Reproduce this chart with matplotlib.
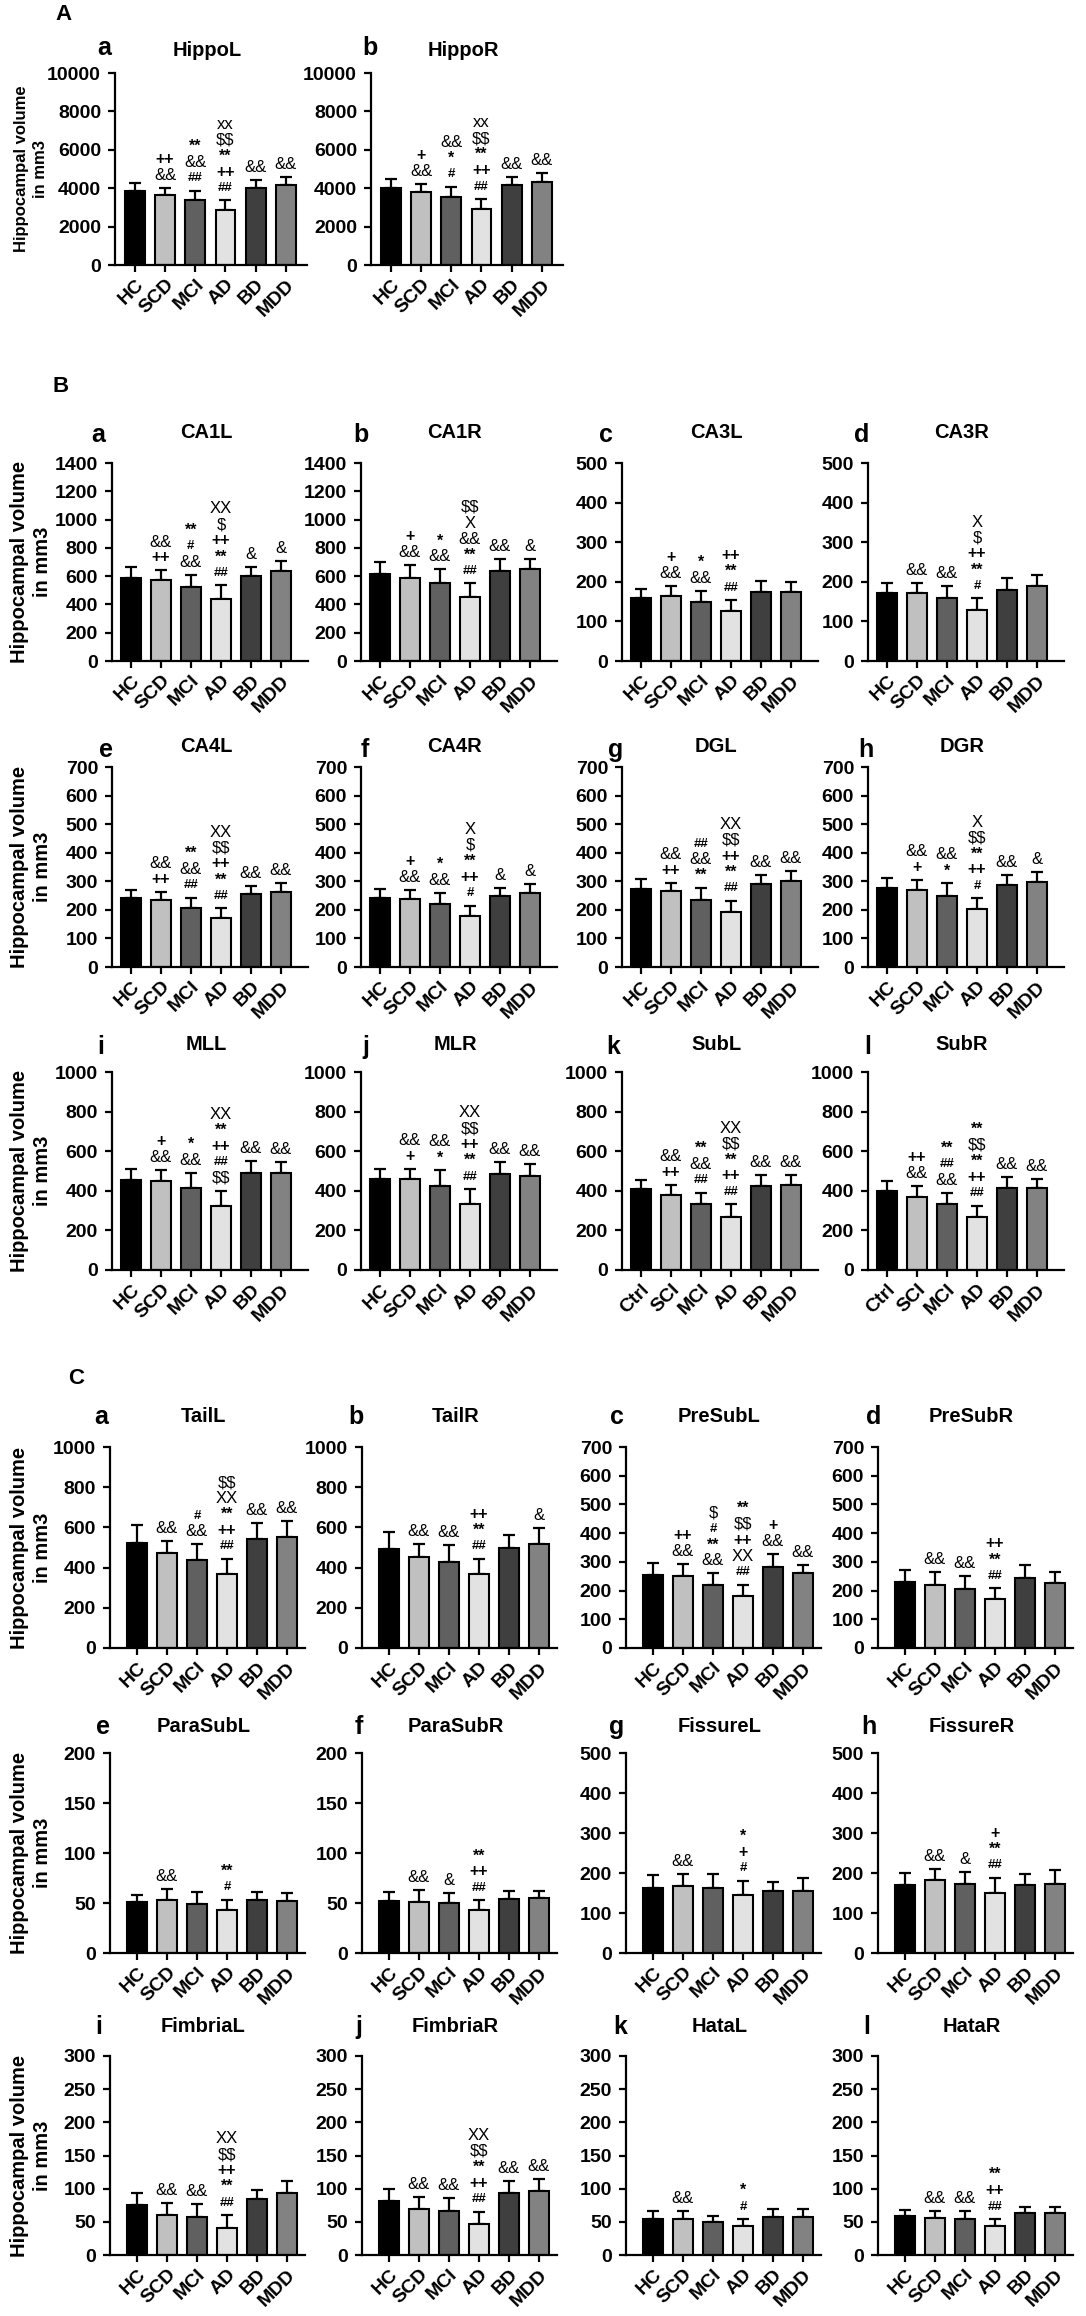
import matplotlib
matplotlib.use("Agg")
import matplotlib.pyplot as plt
import numpy as np

plt.rcParams['font.family'] = ['Liberation Sans', 'DejaVu Sans']
plt.rcParams['text.parse_math'] = False

W, H = 1086, 2316
DPI = 100

# ---------------- data ----------------
groups = ["HC", "SCD", "MCI", "AD", "BD", "MDD"]
groups_sub = ["Ctrl", "SCI", "MCI", "AD", "BD", "MDD"]
bar_colors = ["#000000", "#c0c0c0", "#606060", "#e2e2e2", "#3f3f3f", "#828282"]

hippoL_mean = [3850, 3640, 3380, 2860, 4020, 4160]
hippoL_err = [430, 350, 480, 500, 400, 415]
hippoL_sig = ["", "++\n&&", "**\n&&\n##", "xx\n$$\n**\n++\n##", "&&", "&&"]
hippoR_mean = [3990, 3780, 3520, 2910, 4190, 4320]
hippoR_err = [480, 430, 550, 520, 400, 450]
hippoR_sig = ["", "+\n&&", "&&\n*\n#", "xx\n$$\n**\n++\n##", "&&", "&&"]

ca1L_mean = [590, 575, 520, 440, 600, 637]
ca1L_err = [75, 65, 90, 95, 68, 73]
ca1L_sig = ["", "&&\n++", "**\n#\n&&", "XX\n$\n++\n**\n##", "&", "&"]
ca1R_mean = [615, 590, 553, 450, 637, 650]
ca1R_err = [85, 88, 95, 98, 81, 72]
ca1R_sig = ["", "+\n&&", "*\n&&", "$$\nX\n&&\n**\n##", "&&", "&"]
ca3L_mean = [160, 163, 150, 126, 174, 174]
ca3L_err = [23, 27, 28, 28, 27, 26]
ca3L_sig = ["", "+\n&&", "*\n&&", "++\n**\n##", "", ""]
ca3R_mean = [172, 171, 159, 129, 180, 189]
ca3R_err = [26, 25, 31, 29, 29, 27]
ca3R_sig = ["", "&&", "&&", "X\n$\n++\n**\n#", "", ""]

ca4L_mean = [240, 234, 208, 172, 254, 263]
ca4L_err = [29, 27, 35, 33, 29, 31]
ca4L_sig = ["", "&&\n++", "**\n&&\n##", "XX\n$$\n++\n**\n##", "&&", "&&"]
ca4R_mean = [243, 239, 219, 179, 249, 260]
ca4R_err = [29, 30, 41, 35, 26, 30]
ca4R_sig = ["", "+\n&&", "*\n&&", "X\n$\n**\n++\n#", "&", "&"]
dgL_mean = [273, 265, 236, 194, 291, 300]
dgL_err = [34, 29, 40, 38, 32, 37]
dgL_sig = ["", "&&\n++", "##\n&&\n**", "XX\n$$\n++\n**\n##", "&&", "&&"]
dgR_mean = [278, 270, 249, 203, 288, 297]
dgR_err = [33, 35, 44, 37, 33, 34]
dgR_sig = ["", "&&\n+", "&&\n*", "X\n$$\n**\n++\n#", "&&", "&"]

mlL_mean = [457, 450, 412, 325, 488, 488]
mlL_err = [51, 57, 80, 75, 62, 57]
mlL_sig = ["", "+\n&&", "*\n&&", "XX\n**\n++\n##\n$$", "&&", "&&"]
mlR_mean = [458, 458, 422, 333, 483, 475]
mlR_err = [54, 54, 81, 75, 64, 58]
mlR_sig = ["", "&&\n+", "&&\n*", "XX\n$$\n++\n**\n##", "&&", "&&"]
subL_mean = [407, 380, 331, 270, 424, 431]
subL_err = [47, 51, 59, 61, 56, 47]
subL_sig = ["", "&&\n++", "**\n&&\n##", "XX\n$$\n**\n++\n##", "&&", "&&"]
subR_mean = [398, 371, 331, 266, 412, 415]
subR_err = [53, 51, 59, 58, 57, 45]
subR_sig = ["", "++\n&&", "**\n##\n&&", "**\n$$\n**\n++\n##", "&&", "&&"]

tailL_mean = [520, 475, 438, 370, 544, 554]
tailL_err = [93, 55, 77, 73, 76, 80]
tailL_sig = ["", "&&", "#\n&&", "$$\nXX\n**\n++\n##", "&&", "&&"]
tailR_mean = [492, 454, 430, 367, 497, 516]
tailR_err = [87, 61, 81, 76, 65, 81]
tailR_sig = ["", "&&", "&&", "++\n**\n##", "", "&"]
presubL_mean = [255, 250, 220, 181, 281, 260]
presubL_err = [42, 42, 40, 39, 47, 30]
presubL_sig = ["", "++\n&&", "$\n#\n**\n&&", "**\n$$\n++\nXX\n##", "+\n&&", "&&"]
presubR_mean = [230, 219, 207, 171, 244, 228]
presubR_err = [40, 45, 43, 37, 46, 35]
presubR_sig = ["", "&&", "&&", "++\n**\n##", "", ""]

parasubL_mean = [50.7, 52.7, 49.3, 43.3, 52.7, 51.7]
parasubL_err = [7, 11, 12, 10, 8, 8]
parasubL_sig = ["", "&&", "", "**\n#", "", ""]
parasubR_mean = [52.3, 51.3, 49.7, 42.7, 53.7, 55.0]
parasubR_err = [9, 12, 10, 10, 8, 7]
parasubR_sig = ["", "&&", "&", "**\n++\n##", "", ""]
fissureL_mean = [163, 168, 163, 145, 155, 155]
fissureL_err = [31, 29, 34, 36, 22, 32]
fissureL_sig = ["", "&&", "", "*\n+\n#", "", ""]
fissureR_mean = [170, 182, 172, 150, 170, 172]
fissureR_err = [30, 28, 31, 38, 28, 35]
fissureR_sig = ["", "&&", "&", "+\n**\n##", "", ""]

fimbriaL_mean = [76, 61, 58, 41, 84, 94]
fimbriaL_err = [17, 18, 19, 19, 14, 18]
fimbriaL_sig = ["", "&&", "&&", "XX\n$$\n++\n**\n##", "", ""]
fimbriaR_mean = [81, 70, 66, 46, 94, 97]
fimbriaR_err = [19, 18, 20, 19, 18, 18]
fimbriaR_sig = ["", "&&", "&&", "XX\n$$\n**\n++\n##", "&&", "&&"]
hataL_mean = [55, 54, 49, 44, 58, 58]
hataL_err = [11, 12, 10, 10, 11, 12]
hataL_sig = ["", "&&", "", "*\n#", "", ""]
hataR_mean = [59, 56, 54, 44, 63, 63]
hataR_err = [9, 10, 12, 10, 9, 9]
hataR_sig = ["", "&&", "&&", "**\n++\n##", "", ""]

# ---------------- layout ----------------
fig = plt.figure(figsize=(W / DPI, H / DPI), dpi=DPI)

ylabel_txt = "Hippocampal volume\nin mm3"


def fx(px):
    return px / W


def fy(py):
    return 1 - py / H


def sig_style(line):
    if '#' in line:
        return 9.5, 'bold'
    if '*' in line or '+' in line:
        return 11.5, 'bold'
    return 12, 'normal'


def draw_panel(ax, mean, err, sig, ymax, ystep, labels, xlim):
    x = np.arange(len(mean))
    ax.errorbar(x, mean, yerr=[np.zeros(len(err)), err], fmt='none',
                ecolor='black', elinewidth=1.6, capsize=4, capthick=1.6, zorder=1)
    ax.bar(x, mean, width=0.66, color=bar_colors, edgecolor='black',
           linewidth=1.5, zorder=2)
    for i, s in enumerate(sig):
        if not s:
            continue
        lines = s.split('\n')[::-1]
        for k, line in enumerate(lines):
            fs, fw = sig_style(line)
            ax.annotate(line, xy=(x[i], mean[i] + err[i]),
                        xytext=(0, 9 + 11.5 * k), textcoords='offset points',
                        ha='center', va='center', fontsize=fs, fontweight=fw,
                        annotation_clip=False)
    ax.set_xlim(*xlim)
    ax.set_ylim(0, ymax)
    ax.set_yticks(np.arange(0, ymax + 1e-9, ystep))
    ax.set_xticks(x)
    ax.set_xticklabels(labels, rotation=45, ha='right', va='top',
                       rotation_mode='anchor', fontsize=14, fontweight='bold')
    for t in ax.get_yticklabels():
        t.set_fontweight('bold')
        t.set_fontsize(14)
    for sp in ['top', 'right']:
        ax.spines[sp].set_visible(False)
    for sp in ['left', 'bottom']:
        ax.spines[sp].set_linewidth(1.6)
    ax.tick_params(axis='both', width=1.6, length=5, direction='out')
    ax.tick_params(axis='y', pad=5)
    ax.tick_params(axis='x', pad=3)


rows = [
    dict(top=73, bottom=265, lefts=[115, 371], width=192, xlim=(-0.66, 5.7),
         title_y=50, letter_y=48, letter_x=[104, 370], ylab_fs=12, ylab_ls=1.3,
         panels=[("a", "HippoL", hippoL_mean, hippoL_err, hippoL_sig, 10000, 2000, groups),
                 ("b", "HippoR", hippoR_mean, hippoR_err, hippoR_sig, 10000, 2000, groups)]),
    dict(top=463, bottom=661, lefts=[112, 361, 622, 868], width=196, xlim=(-0.63, 5.9),
         title_y=433, letter_y=435, letter_x=[98, 361, 606, 862], ylab_fs=14.5, ylab_ls=1.3,
         panels=[("a", "CA1L", ca1L_mean, ca1L_err, ca1L_sig, 1400, 200, groups),
                 ("b", "CA1R", ca1R_mean, ca1R_err, ca1R_sig, 1400, 200, groups),
                 ("c", "CA3L", ca3L_mean, ca3L_err, ca3L_sig, 500, 100, groups),
                 ("d", "CA3R", ca3R_mean, ca3R_err, ca3R_sig, 500, 100, groups)]),
    dict(top=767, bottom=967, lefts=[112, 361, 622, 868], width=196, xlim=(-0.63, 5.9),
         title_y=746, letter_y=750, letter_x=[106, 365, 616, 866], ylab_fs=14.5, ylab_ls=1.3,
         panels=[("e", "CA4L", ca4L_mean, ca4L_err, ca4L_sig, 700, 100, groups),
                 ("f", "CA4R", ca4R_mean, ca4R_err, ca4R_sig, 700, 100, groups),
                 ("g", "DGL", dgL_mean, dgL_err, dgL_sig, 700, 100, groups),
                 ("h", "DGR", dgR_mean, dgR_err, dgR_sig, 700, 100, groups)]),
    dict(top=1072, bottom=1270, lefts=[112, 361, 622, 868], width=196, xlim=(-0.63, 5.9),
         title_y=1044, letter_y=1047, letter_x=[101, 366, 613, 868], ylab_fs=14.5, ylab_ls=1.3,
         panels=[("i", "MLL", mlL_mean, mlL_err, mlL_sig, 1000, 200, groups),
                 ("j", "MLR", mlR_mean, mlR_err, mlR_sig, 1000, 200, groups),
                 ("k", "SubL", subL_mean, subL_err, subL_sig, 1000, 200, groups_sub),
                 ("l", "SubR", subR_mean, subR_err, subR_sig, 1000, 200, groups_sub)]),
    dict(top=1447, bottom=1648, lefts=[110, 362, 626, 878], width=195, xlim=(-0.9, 5.6),
         title_y=1417, letter_y=1417, letter_x=[101, 356, 617, 874], ylab_fs=14.5, ylab_ls=1.3,
         panels=[("a", "TailL", tailL_mean, tailL_err, tailL_sig, 1000, 200, groups),
                 ("b", "TailR", tailR_mean, tailR_err, tailR_sig, 1000, 200, groups),
                 ("c", "PreSubL", presubL_mean, presubL_err, presubL_sig, 700, 100, groups),
                 ("d", "PreSubR", presubR_mean, presubR_err, presubR_sig, 700, 100, groups)]),
    dict(top=1753, bottom=1953, lefts=[110, 362, 626, 878], width=195, xlim=(-0.9, 5.6),
         title_y=1727, letter_y=1727, letter_x=[103, 359, 617, 869], ylab_fs=14.5, ylab_ls=1.3,
         panels=[("e", "ParaSubL", parasubL_mean, parasubL_err, parasubL_sig, 200, 50, groups),
                 ("f", "ParaSubR", parasubR_mean, parasubR_err, parasubR_sig, 200, 50, groups),
                 ("g", "FissureL", fissureL_mean, fissureL_err, fissureL_sig, 500, 100, groups),
                 ("h", "FissureR", fissureR_mean, fissureR_err, fissureR_sig, 500, 100, groups)]),
    dict(top=2056, bottom=2255, lefts=[110, 362, 626, 878], width=195, xlim=(-0.9, 5.6),
         title_y=2027, letter_y=2027, letter_x=[99, 359, 620, 867], ylab_fs=14.5, ylab_ls=1.3,
         panels=[("i", "FimbriaL", fimbriaL_mean, fimbriaL_err, fimbriaL_sig, 300, 50, groups),
                 ("j", "FimbriaR", fimbriaR_mean, fimbriaR_err, fimbriaR_sig, 300, 50, groups),
                 ("k", "HataL", hataL_mean, hataL_err, hataL_sig, 300, 50, groups),
                 ("l", "HataR", hataR_mean, hataR_err, hataR_sig, 300, 50, groups)]),
]

for row in rows:
    top, bottom, w = row['top'], row['bottom'], row['width']
    for j, (letter, title, mean, err, sig, ymax, ystep, labels) in enumerate(row['panels']):
        left = row['lefts'][j]
        ax = fig.add_axes([fx(left), fy(bottom), w / W, (bottom - top) / H])
        draw_panel(ax, mean, err, sig, ymax, ystep, labels, row['xlim'])
        fig.text(fx(left + w / 2 - 4), fy(row['title_y']), title, ha='center', va='center',
                 fontsize=14.5, fontweight='bold')
        fig.text(fx(row['letter_x'][j]), fy(row['letter_y']), letter, ha='center', va='center',
                 fontsize=18, fontweight='bold')
    fig.text(fx(31), fy((top + bottom) / 2), ylabel_txt, rotation=90, ha='center', va='center',
             fontsize=row['ylab_fs'], fontweight='bold', linespacing=row['ylab_ls'],
             multialignment='center')

for lab, xp, yp in [("A", 64, 15), ("B", 61, 387), ("C", 76, 1378)]:
    fig.text(fx(xp), fy(yp), lab, ha='center', va='center', fontsize=16, fontweight='bold')

fig.savefig("out.png", dpi=DPI)
